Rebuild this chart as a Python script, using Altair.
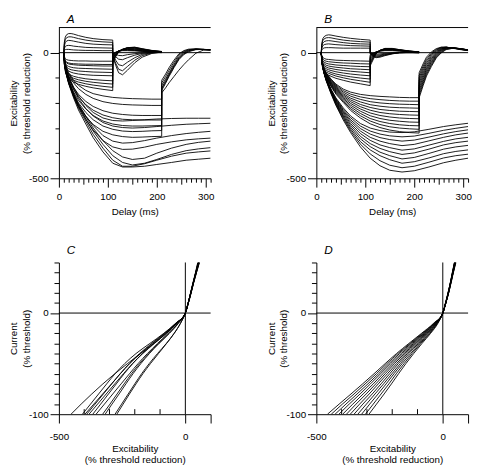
import altair as alt
import pandas as pd

FONT = "Liberation Sans"

# ---------------- time grids (ms) ----------------
T_PULSE1 = [10, 11, 13, 16, 20, 25, 30, 40, 55, 70, 90, 110]
T_AFTER1 = [110, 116, 122, 130, 140, 155, 170, 190, 210]
T_PULSE2 = [10, 12, 15, 20, 30, 40, 55, 70, 90, 110, 130, 150, 170, 190, 210]
T_AFTER2 = [210, 218, 225, 235, 245, 255, 265, 280, 295, 310]
T_LONG = [10, 12, 15, 20, 30, 40, 55, 70, 90, 110, 130, 150, 175, 200, 230, 260, 285, 310]

# ---------------- panel A (recorded) ----------------
A_POS_PULSE = [
    [0, 40, 62, 72, 76, 76, 74, 68, 61, 56, 52, 50],
    [0, 33, 52, 60, 63, 63, 61, 56, 50, 46, 43, 41],
    [0, 26, 40, 47, 49, 48, 46, 42, 37, 34, 32, 31],
    [0, 16, 25, 28, 29, 28, 26, 24, 21, 20, 19, 18],
    [0, 8, 12, 13, 13, 12, 11, 10, 9, 9, 8, 8],
]
A_POS_AFTER = [
    [-15, -50, -80, -88, -70, -40, -18, -3, 2],
    [-12, -42, -66, -72, -55, -30, -12, -1, 2],
    [-8, -30, -48, -52, -38, -20, -7, 0, 1],
    [-4, -16, -26, -28, -20, -10, -3, 1, 1],
    [-2, -7, -11, -12, -8, -4, -1, 1, 0],
]
A_NEG_PULSE = [
    [0, -15, -24, -28, -30, -31, -32, -33, -33, -34, -34, -34],
    [0, -20, -32, -38, -41, -43, -44, -45, -46, -46, -47, -47],
    [0, -22, -35, -42, -45, -47, -48, -50, -51, -52, -53, -53],
    [0, -27, -43, -51, -55, -58, -60, -62, -63, -64, -65, -66],
    [0, -30, -48, -58, -64, -68, -70, -73, -75, -77, -78, -79],
    [0, -34, -55, -66, -73, -78, -81, -85, -88, -90, -91, -92],
    [0, -40, -63, -76, -84, -90, -94, -99, -104, -107, -110, -112],
    [0, -42, -67, -81, -90, -97, -102, -108, -114, -118, -122, -125],
    [0, -44, -70, -86, -96, -104, -110, -117, -124, -129, -134, -138],
    [0, -46, -74, -91, -102, -110, -117, -126, -134, -140, -146, -151],
]
A_NEG_AFTER = [
    [-5, 2, 6, 8, 8, 7, 5, 3, 2],
    [-8, 1, 7, 10, 10, 9, 6, 4, 2],
    [-10, 0, 7, 11, 12, 10, 7, 4, 2],
    [-14, -2, 7, 12, 13, 12, 8, 5, 3],
    [-18, -4, 6, 12, 15, 14, 10, 6, 3],
    [-22, -6, 6, 13, 16, 16, 11, 6, 3],
    [-28, -9, 5, 13, 18, 18, 13, 7, 4],
    [-32, -11, 4, 13, 19, 20, 14, 8, 4],
    [-36, -13, 3, 13, 20, 21, 15, 8, 4],
    [-40, -16, 2, 13, 20, 22, 16, 9, 5],
]
A_MID_PULSE = [
    [0, -30, -55, -80, -110, -130, -150, -163, -172, -178, -181, -183, -184, -185, -185],
    [0, -33, -60, -87, -120, -143, -166, -182, -195, -202, -206, -208, -209, -210, -210],
    [0, -38, -68, -98, -138, -166, -194, -214, -231, -241, -246, -249, -250, -250, -250],
    [0, -40, -72, -103, -146, -176, -207, -229, -248, -259, -265, -267, -268, -268, -268],
    [0, -43, -77, -110, -156, -190, -224, -250, -272, -284, -290, -292, -292, -291, -290],
    [0, -45, -80, -115, -163, -200, -238, -267, -292, -305, -312, -314, -313, -311, -310],
    [0, -48, -85, -122, -173, -213, -254, -286, -313, -327, -334, -337, -336, -334, -333],
]
A_MID_AFTER = [
    [-110, -85, -60, -30, -5, 8, 14, 15, 12, 10],
    [-120, -95, -70, -38, -10, 5, 12, 15, 13, 10],
    [-130, -105, -80, -46, -16, 2, 10, 14, 13, 11],
    [-140, -112, -86, -52, -21, -2, 8, 14, 13, 11],
    [-145, -117, -90, -56, -25, -5, 6, 13, 13, 12],
    [-150, -122, -95, -60, -28, -8, 4, 12, 13, 12],
    [-160, -140, -120, -95, -70, -48, -28, -2, 10, 12],
]
A_LONG = [
    [0, -38, -66, -95, -138, -172, -210, -238, -260, -270, -272, -270, -267, -264, -262, -261, -261, -261],
    [0, -40, -70, -100, -145, -182, -222, -252, -278, -292, -298, -300, -298, -294, -289, -285, -283, -281],
    [0, -44, -78, -112, -163, -205, -252, -290, -330, -352, -360, -358, -350, -340, -330, -322, -317, -313],
    [0, -46, -82, -117, -170, -215, -265, -308, -350, -375, -385, -384, -376, -365, -355, -347, -343, -340],
    [0, -45, -80, -115, -165, -205, -255, -300, -350, -390, -415, -425, -420, -400, -380, -365, -357, -352],
    [0, -46, -82, -118, -170, -212, -264, -312, -365, -410, -437, -447, -440, -425, -405, -390, -383, -378],
    [0, -47, -84, -121, -175, -220, -273, -325, -380, -428, -452, -452, -442, -428, -412, -400, -395, -391],
    [0, -48, -86, -124, -180, -228, -284, -338, -395, -440, -455, -455, -452, -445, -437, -428, -424, -420],
]

# ---------------- panel B (model) ----------------
B_POS_PULSE = [
    [0, 35, 55, 64, 69, 71, 70, 66, 61, 57, 53, 50],
    [0, 30, 47, 55, 59, 60, 59, 55, 50, 47, 44, 42],
    [0, 24, 38, 44, 47, 48, 47, 44, 40, 37, 35, 34],
    [0, 17, 27, 32, 34, 35, 34, 32, 30, 28, 27, 26],
    [0, 10, 16, 19, 20, 20, 20, 19, 18, 18, 18, 18],
]
B_POS_AFTER = [
    [-5, -15, -20, -18, -12, -5, 0, 1, 0],
    [-3, -12, -17, -15, -10, -4, 0, 1, 0],
    [-2, -10, -14, -12, -8, -3, 0, 1, 0],
    [-1, -7, -10, -9, -6, -2, 0, 0, 0],
    [0, -4, -6, -5, -3, -1, 0, 0, 0],
]
B_NEG_PULSE = [
    [0, -12, -19, -23, -26, -27, -28, -30, -31, -32, -33, -34],
    [0, -16, -25, -31, -34, -36, -37, -39, -41, -42, -44, -45],
    [0, -20, -31, -38, -42, -45, -46, -49, -51, -53, -55, -56],
    [0, -24, -37, -45, -50, -53, -55, -58, -61, -64, -66, -68],
    [0, -28, -43, -52, -57, -61, -63, -67, -71, -74, -77, -80],
    [0, -31, -48, -58, -64, -68, -71, -76, -81, -85, -89, -92],
    [0, -35, -53, -64, -71, -75, -79, -85, -91, -96, -101, -105],
    [0, -38, -58, -70, -77, -82, -86, -93, -100, -106, -112, -118],
    [0, -41, -63, -76, -84, -89, -94, -102, -110, -117, -124, -131],
]
B_NEG_AFTER = [
    [-8, -2, 3, 6, 8, 8, 6, 3, 1],
    [-12, -4, 3, 7, 10, 10, 7, 4, 1],
    [-17, -7, 2, 8, 11, 11, 8, 4, 2],
    [-22, -10, 1, 8, 12, 12, 9, 5, 2],
    [-27, -13, 0, 9, 13, 13, 10, 5, 2],
    [-33, -17, -1, 9, 14, 14, 10, 6, 2],
    [-39, -20, -2, 9, 15, 15, 11, 6, 3],
    [-45, -24, -3, 9, 16, 16, 12, 6, 3],
    [-52, -28, -4, 9, 17, 17, 12, 7, 3],
]
B_MID_PULSE = [
    [0, -35, -60, -80, -105, -125, -145, -157, -166, -171, -174, -176, -178, -179, -179],
    [0, -36, -61, -82, -108, -129, -151, -165, -176, -183, -187, -190, -192, -193, -193],
    [0, -37, -62, -84, -111, -133, -157, -173, -186, -195, -200, -203, -205, -206, -207],
    [0, -38, -64, -86, -114, -137, -163, -181, -196, -207, -213, -217, -219, -220, -221],
    [0, -38, -65, -88, -117, -141, -168, -188, -206, -218, -226, -230, -233, -234, -235],
    [0, -39, -66, -90, -120, -145, -173, -195, -215, -229, -238, -243, -246, -248, -249],
    [0, -39, -67, -92, -123, -149, -178, -202, -224, -240, -250, -256, -260, -262, -263],
    [0, -40, -68, -94, -126, -153, -183, -209, -233, -251, -262, -269, -273, -276, -277],
    [0, -40, -69, -96, -129, -157, -188, -216, -242, -262, -274, -282, -287, -290, -291],
    [0, -41, -70, -98, -132, -161, -193, -223, -251, -272, -286, -295, -300, -303, -305],
    [0, -41, -71, -100, -135, -165, -198, -230, -260, -283, -298, -308, -314, -318, -320],
]
B_MID_AFTER = [
    [-80, -45, -18, 3, 16, 22, 22, 17, 12, 8],
    [-90, -54, -26, -2, 13, 21, 22, 18, 13, 9],
    [-100, -63, -34, -7, 10, 19, 22, 18, 13, 9],
    [-110, -72, -42, -13, 7, 17, 21, 19, 14, 9],
    [-120, -81, -50, -19, 3, 15, 21, 19, 14, 10],
    [-130, -90, -58, -25, -1, 13, 20, 19, 15, 10],
    [-140, -99, -65, -31, -5, 11, 19, 19, 15, 10],
    [-150, -108, -72, -37, -9, 8, 18, 19, 16, 10],
    [-160, -116, -79, -43, -13, 5, 16, 19, 16, 11],
    [-170, -124, -86, -49, -17, 2, 14, 18, 16, 11],
    [-180, -132, -93, -55, -21, -1, 12, 18, 16, 11],
]
B_LONG = [
    [0, -42, -72, -102, -145, -180, -220, -252, -282, -300, -310, -316, -318, -315, -305, -294, -287, -281],
    [0, -42, -73, -103, -147, -183, -226, -259, -292, -312, -324, -331, -335, -332, -321, -309, -301, -294],
    [0, -43, -74, -104, -149, -187, -231, -267, -302, -324, -338, -346, -352, -348, -336, -323, -314, -307],
    [0, -43, -74, -105, -151, -190, -236, -274, -312, -337, -352, -362, -370, -365, -351, -337, -327, -320],
    [0, -43, -75, -106, -153, -193, -241, -282, -322, -349, -367, -378, -388, -383, -368, -353, -343, -337],
    [0, -44, -75, -107, -155, -197, -247, -289, -333, -362, -381, -394, -405, -399, -384, -367, -358, -352],
    [0, -44, -76, -108, -157, -200, -252, -297, -343, -374, -396, -410, -423, -417, -401, -384, -375, -369],
    [0, -44, -76, -109, -159, -203, -257, -304, -354, -387, -410, -426, -440, -434, -419, -402, -393, -387],
    [0, -45, -77, -110, -161, -207, -262, -311, -364, -403, -430, -448, -458, -452, -436, -419, -410, -404],
    [0, -45, -78, -112, -164, -210, -268, -318, -375, -420, -450, -468, -475, -470, -455, -438, -428, -420],
]

# ---------------- panels C and D (current vs excitability) ----------------
CURRENT = [-100, -90, -80, -70, -60, -50, -40, -30, -20, -10, 0, 10, 20, 30, 40, 50]
C_EXCIT = [
    [-452, -412, -370, -326, -279, -229, -177, -124, -74, -34, 0, 11, 21, 31, 41, 50],
    [-407, -375, -343, -311, -278, -240, -195, -140, -85, -38, 0, 12, 22, 32, 42, 53],
    [-397, -362, -327, -292, -257, -220, -177, -130, -80, -36, 0, 11, 21, 31, 41, 51],
    [-390, -357, -324, -291, -258, -222, -181, -133, -83, -37, 0, 12, 23, 33, 44, 55],
    [-381, -347, -313, -279, -245, -209, -168, -122, -75, -34, 0, 11, 21, 31, 42, 52],
    [-366, -335, -304, -273, -242, -208, -170, -125, -78, -35, 0, 12, 22, 32, 43, 54],
    [-353, -320, -287, -254, -221, -187, -150, -110, -68, -30, 0, 11, 21, 30, 40, 49],
    [-327, -298, -270, -242, -213, -181, -145, -105, -64, -28, 0, 12, 23, 33, 44, 56],
    [-317, -290, -262, -235, -207, -176, -142, -104, -63, -27, 0, 11, 21, 31, 41, 51],
    [-278, -252, -226, -200, -173, -143, -110, -75, -44, -19, 0, 12, 22, 32, 43, 54],
    [-271, -246, -221, -195, -168, -138, -106, -74, -44, -19, 0, 11, 22, 32, 42, 53],
]
D_EXCIT = [
    [-456, -410, -363, -317, -272, -228, -183, -134, -84, -36, 0, 11, 21, 30, 38, 46],
    [-441, -397, -351, -307, -263, -221, -177, -129, -81, -34, 0, 11, 21, 30, 38, 46],
    [-426, -383, -339, -296, -254, -213, -171, -125, -77, -33, 0, 11, 21, 30, 38, 47],
    [-411, -370, -327, -286, -246, -206, -164, -120, -74, -31, 0, 11, 21, 30, 39, 47],
    [-396, -356, -315, -275, -237, -198, -158, -115, -71, -30, 0, 11, 22, 31, 39, 48],
    [-381, -343, -303, -265, -228, -191, -152, -110, -67, -28, 0, 12, 22, 31, 39, 48],
    [-366, -329, -291, -255, -219, -183, -146, -106, -64, -27, 0, 12, 22, 31, 40, 49],
    [-351, -316, -279, -244, -210, -176, -140, -101, -61, -25, 0, 12, 22, 31, 40, 49],
    [-336, -302, -268, -234, -201, -168, -134, -96, -58, -24, 0, 12, 23, 32, 41, 50],
    [-321, -289, -256, -224, -193, -161, -127, -91, -54, -22, 0, 12, 23, 32, 41, 50],
    [-306, -275, -244, -213, -184, -153, -121, -87, -51, -21, 0, 12, 23, 32, 41, 51],
    [-292, -262, -232, -203, -175, -146, -115, -82, -48, -19, 0, 12, 23, 33, 42, 52],
]
INNER_TICKS = [-400, -300, -200, -100]

# ---------------- build tables ----------------
def te_rows(prefix, pulse_t, after_t, pulses, afters):
    rows = []
    for k, (p, a) in enumerate(zip(pulses, afters)):
        ts = pulse_t + after_t
        vs = p + a
        for i, (t, v) in enumerate(zip(ts, vs)):
            rows.append({"curve": f"{prefix}{k}", "i": i, "x": t, "y": v})
    return rows


def long_rows(prefix, ts, series):
    rows = []
    for k, s in enumerate(series):
        for i, (t, v) in enumerate(zip(ts, s)):
            rows.append({"curve": f"{prefix}{k}", "i": i, "x": t, "y": v})
    return rows


def iv_rows(prefix, xs_list):
    rows = []
    for k, xs in enumerate(xs_list):
        for i, (xv, yv) in enumerate(zip(xs, CURRENT)):
            rows.append({"curve": f"{prefix}{k}", "i": i, "x": xv, "y": yv})
    return rows


dfA = pd.DataFrame(
    te_rows("ap", T_PULSE1, T_AFTER1, A_POS_PULSE, A_POS_AFTER)
    + te_rows("an", T_PULSE1, T_AFTER1, A_NEG_PULSE, A_NEG_AFTER)
    + te_rows("am", T_PULSE2, T_AFTER2, A_MID_PULSE, A_MID_AFTER)
    + long_rows("al", T_LONG, A_LONG)
)
dfB = pd.DataFrame(
    te_rows("bp", T_PULSE1, T_AFTER1, B_POS_PULSE, B_POS_AFTER)
    + te_rows("bn", T_PULSE1, T_AFTER1, B_NEG_PULSE, B_NEG_AFTER)
    + te_rows("bm", T_PULSE2, T_AFTER2, B_MID_PULSE, B_MID_AFTER)
    + long_rows("bl", T_LONG, B_LONG)
)
dfC = pd.DataFrame(iv_rows("c", C_EXCIT))
dfD = pd.DataFrame(iv_rows("d", D_EXCIT))

W, H = 155, 154
LW = 0.9


def letter(t):
    return alt.TitleParams(text=t, anchor="start", frame="group", fontStyle="italic", fontSize=12,
                           font=FONT, fontWeight="normal", dx=8, offset=1, color="black")


def te_panel(df, t):
    xs = alt.Scale(domain=[0, 310], nice=False, zero=False)
    ys = alt.Scale(domain=[-500, 100], nice=False, zero=False)
    xax = alt.Axis(
        title="Delay (ms)", values=list(range(0, 311, 10)),
        labelExpr="datum.value % 100 === 0 ? '' + datum.value : ''",
        tickSize={"condition": [{"test": "datum.value % 100 === 0", "value": 9},
                                {"test": "datum.value % 50 === 0", "value": 6}], "value": 4},
        labelPadding=5, titlePadding=5, labelFlush=False, labelOverlap=False, labelBound=False,
    )
    yax = alt.Axis(
        title=["Excitability", "(% threshold reduction)"],
        values=[-500, -400, -300, -200, -100, 0],
        labelExpr="(datum.value === 0 || datum.value === -500) ? '' + datum.value : ''",
        tickSize={"condition": {"test": "datum.value === 0 || datum.value === -500", "value": 9}, "value": 4},
        labelPadding=2, titlePadding=-3, titleLineHeight=13, labelFlush=False, labelOverlap=False,
    )
    lines = alt.Chart(df).mark_line(color="black", strokeWidth=LW, clip=True).encode(
        x=alt.X("x:Q", scale=xs, axis=xax),
        y=alt.Y("y:Q", scale=ys, axis=yax),
        detail="curve:N",
        order="i:Q",
    )
    zero = alt.Chart().mark_rule(color="black", strokeWidth=1).encode(
        y=alt.datum(0, axis=yax))
    top = alt.Chart().mark_rule(color="black", strokeWidth=1).encode(
        y=alt.datum(100, axis=yax))
    return alt.layer(lines, zero, top).properties(width=W, height=H, title=letter(t))


def iv_panel(df, t):
    xs = alt.Scale(domain=[-500, 100], nice=False, zero=False)
    ys = alt.Scale(domain=[-100, 50], nice=False, zero=False)
    xax = alt.Axis(
        title=["Excitability", "(% threshold reduction)"], values=[-500, 0, 100],
        labelExpr="(datum.value === 0 || datum.value === -500) ? '' + datum.value : ''",
        tickSize=9, labelPadding=9, titlePadding=2, titleLineHeight=11,
        labelFlush=False, labelOverlap=False, labelBound=False,
    )
    yax = alt.Axis(
        title=["Current", "(% threshold)"], values=list(range(-100, 51, 10)),
        labelExpr="(datum.value === 0 || datum.value === -100) ? '' + datum.value : ''",
        tickSize={"condition": {"test": "datum.value === 0 || datum.value === -100", "value": 9}, "value": 5},
        labelPadding=2, titlePadding=-3, titleLineHeight=13, labelFlush=False, labelOverlap=False,
    )
    lines = alt.Chart(df).mark_line(color="black", strokeWidth=LW, clip=True, interpolate="monotone").encode(
        x=alt.X("x:Q", scale=xs, axis=xax),
        y=alt.Y("y:Q", scale=ys, axis=yax),
        detail="curve:N",
        order="i:Q",
    )
    hz = alt.Chart().mark_rule(color="black", strokeWidth=1).encode(
        y=alt.datum(0, axis=yax))
    vt = alt.Chart().mark_rule(color="black", strokeWidth=1).encode(
        x=alt.datum(0, axis=xax))
    ticks = alt.Chart(pd.DataFrame({"x": INNER_TICKS})).mark_rule(color="black", strokeWidth=1).encode(
        x=alt.X("x:Q", axis=xax),
        y=alt.datum(-100, axis=yax),
        y2=alt.datum(-95),
    )
    return alt.layer(lines, hz, vt, ticks).properties(width=W, height=155, title=letter(t))


row1 = alt.hconcat(te_panel(dfA, "A"), te_panel(dfB, "B"), spacing=52)
row2 = alt.hconcat(iv_panel(dfC, "C"), iv_panel(dfD, "D"), spacing=55)

chart = alt.vconcat(row1, row2, spacing=28).properties(
    padding=0, background="white"
).configure_view(stroke=None).configure_axis(
    domainColor="black", tickColor="black", labelColor="black", titleColor="black",
    labelFont=FONT, titleFont=FONT, labelFontSize=10, titleFontSize=10,
    titleFontWeight="normal", grid=False, domainWidth=1, tickWidth=1,
)

chart.save("out.html", embed_options={"renderer": "svg", "actions": False})
